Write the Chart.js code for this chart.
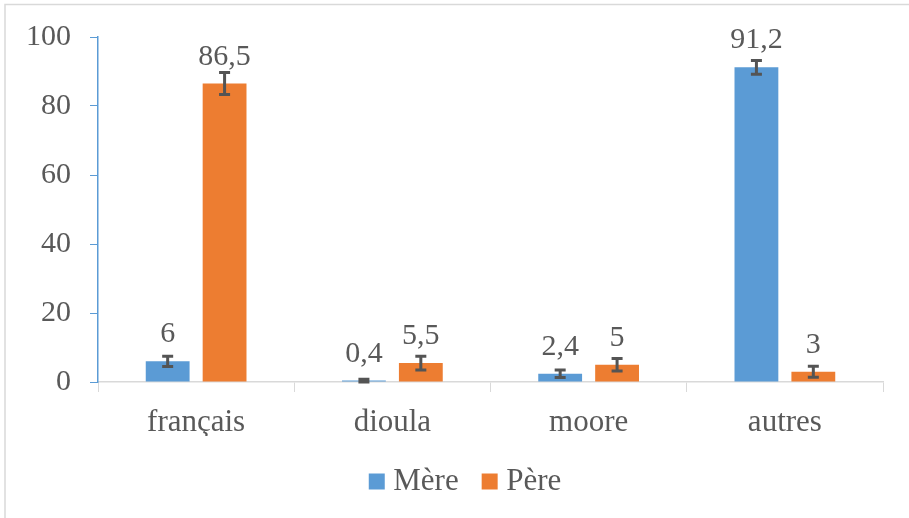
<!DOCTYPE html>
<html>
<head>
<meta charset="utf-8">
<script src="https://cdn.jsdelivr.net/npm/chart.js@4/dist/chart.umd.min.js"></script>
<style>
  html, body { margin: 0; padding: 0; background: #fff; }
  #wrap { width: 909px; height: 518px; position: relative; }
</style>
</head>
<body>
<div id="wrap"><canvas id="chart"></canvas></div>
<script>
const categories = ['français', 'dioula', 'moore', 'autres'];
const mereValues = [6, 0.4, 2.4, 91.2];
const pereValues = [86.5, 5.5, 5, 3];
const mereErrors = [1.5, 0.4, 1.1, 2];
const pereErrors = [3.2, 2, 1.8, 1.6];
const mereLabels = ['6', '0,4', '2,4', '91,2'];
const pereLabels = ['86,5', '5,5', '5', '3'];
const yTicks = [0, 20, 40, 60, 80, 100];

const textColor = '#595959';
const fontFamily = '"Liberation Serif", "Times New Roman", serif';

// light frame round the whole chart (left and top edges visible)
const framePlugin = {
    id: 'frame',
    beforeDraw(chart) {
        const ctx = chart.ctx;
        ctx.save();
        ctx.fillStyle = '#fff';
        ctx.fillRect(0, 0, chart.width, chart.height);
        ctx.strokeStyle = '#d9d9d9';
        ctx.lineWidth = 1.5;
        ctx.strokeRect(5, 4.5, chart.width + 10, chart.height + 10);
        ctx.restore();
    }
};

// legend sits a bit left of the plot area's centre
const legendShift = {
    id: 'legendShift',
    afterLayout(chart) {
        const lg = chart.legend;
        const shift = (chart.chartArea.left + chart.chartArea.right) / 2 - (lg.left + lg.right) / 2 - 22;
        lg.left += shift;
        lg.right += shift;
    }
};

// error bars and value labels
const errorPlugin = {
    id: 'errorBars',
    afterDatasetsDraw(chart) {
        const ctx = chart.ctx;
        const y = chart.scales.y;
        const errs = [mereErrors, pereErrors];
        const labels = [mereLabels, pereLabels];
        ctx.save();
        chart.data.datasets.forEach((ds, i) => {
            const meta = chart.getDatasetMeta(i);
            meta.data.forEach((bar, j) => {
                const v = ds.data[j];
                const e = errs[i][j];
                const top = y.getPixelForValue(v + e);
                const bot = y.getPixelForValue(Math.max(0, v - e));
                ctx.strokeStyle = '#545454';
                ctx.lineWidth = 3;
                ctx.beginPath();
                ctx.moveTo(bar.x, top);
                ctx.lineTo(bar.x, bot);
                ctx.moveTo(bar.x - 5.5, top);
                ctx.lineTo(bar.x + 5.5, top);
                ctx.moveTo(bar.x - 5.5, bot);
                ctx.lineTo(bar.x + 5.5, bot);
                ctx.stroke();

                ctx.fillStyle = textColor;
                ctx.font = '30px ' + fontFamily;
                ctx.textAlign = 'center';
                ctx.textBaseline = 'alphabetic';
                ctx.fillText(labels[i][j], bar.x, y.getPixelForValue(v) - 19);
            });
        });
        ctx.restore();
    }
};

new Chart(document.getElementById('chart'), {
    type: 'bar',
    data: {
        labels: categories,
        datasets: [
            { label: 'Mère', data: mereValues, backgroundColor: '#5B9BD5' },
            { label: 'Père', data: pereValues, backgroundColor: '#ED7D31' }
        ]
    },
    options: {
        responsive: true,
        maintainAspectRatio: false,
        animation: false,
        categoryPercentage: 0.58,
        barPercentage: 0.77,
        layout: { padding: { top: 36, right: 26, bottom: 11, left: 0 } },
        plugins: {
            legend: {
                position: 'bottom',
                labels: {
                    usePointStyle: true,
                    pointStyle: 'rect',
                    boxWidth: 2,
                    boxHeight: 16,
                    color: textColor,
                    padding: 30,
                    font: { family: fontFamily, size: 31 }
                }
            },
            tooltip: { enabled: false }
        },
        scales: {
            x: {
                afterFit(scale) { scale.height = 54; },
                border: { color: '#d9d9d9', width: 1.5 },
                grid: { offset: true, drawOnChartArea: false, drawTicks: true, tickLength: 10, color: '#d9d9d9' },
                ticks: { color: textColor, padding: 12, font: { family: fontFamily, size: 31 } }
            },
            y: {
                min: 0,
                max: 100,
                afterFit(scale) { scale.width = 98; },
                afterBuildTicks(scale) { scale.ticks = yTicks.map(v => ({ value: v })); },
                border: { color: '#5B9BD5', width: 1.5 },
                grid: { drawOnChartArea: false, drawTicks: true, tickLength: 8, color: '#5B9BD5' },
                ticks: { color: textColor, padding: 19, font: { family: fontFamily, size: 30 } }
            }
        }
    },
    plugins: [framePlugin, legendShift, errorPlugin]
});
</script>
</body>
</html>
